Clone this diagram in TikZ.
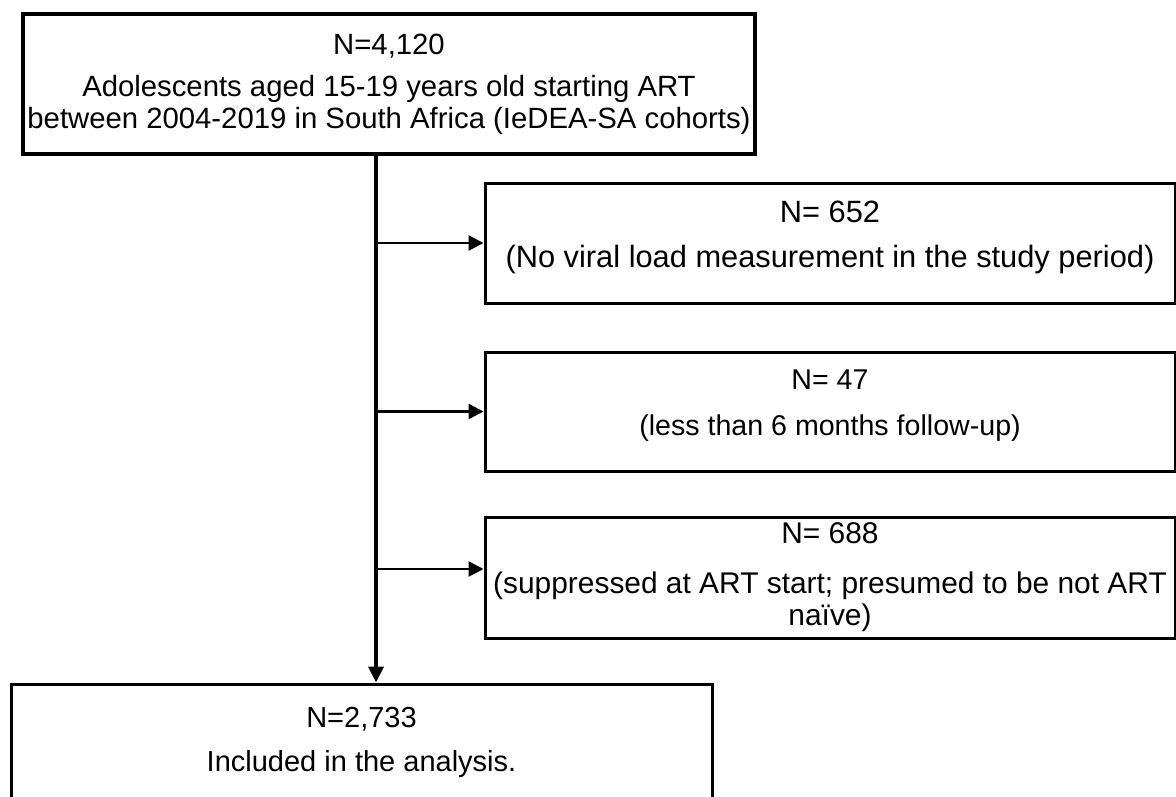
\documentclass[tikz,border=0pt]{standalone}
\usepackage{fontspec}
\setmainfont{Liberation Sans}
\usetikzlibrary{arrows.meta}
\begin{document}
\begin{tikzpicture}[x=1pt,y=-1pt,
  box/.style={draw=black, line width=3pt, rectangle, inner sep=0pt, align=center,
    font=\fontsize{28.5}{32}\selectfont},
  topbox/.style={box, line width=4pt},
  trunk/.style={line width=4pt, -{Triangle[length=16pt,width=15pt]}},
  branch/.style={line width=2.5pt, -{Triangle[length=15pt,width=15pt]}}]
\useasboundingbox (0,0) rectangle (1176,796);
\clip (0,0) rectangle (1176,796);
\coordinate (spine) at (376,0);
\node[topbox, minimum width=732pt, minimum height=140pt, font=\fontsize{29.3}{32}\selectfont] (top) at (389,84)
  {N=4,120\\[10pt]Adolescents aged 15-19 years old starting ART\\between 2004-2019 in South Africa (IeDEA-SA cohorts)};
\node[box, minimum width=690pt, minimum height=120pt, font=\fontsize{30.8}{32}\selectfont] (b1) at (830,243)
  {N= 652\\[13pt](No viral load measurement in the study period)\rule[-18pt]{0pt}{0pt}};
\node[box, minimum width=690pt, minimum height=119pt, font=\fontsize{28.6}{32}\selectfont] (b2) at (830,411.5)
  {N= 47\\[14pt](less than 6 months follow-up)\rule[-18pt]{0pt}{0pt}};
\node[box, minimum width=690pt, minimum height=121pt, font=\fontsize{29.9}{32}\selectfont] (b3) at (830,577.5)
  {N= 688\\[18pt](suppressed at ART start; presumed to be not ART\\naïve)};
\node[box, minimum width=701pt, minimum height=116pt, font=\fontsize{29}{32}\selectfont] (bot) at (361.5,742)
  {N=2,733\\[12pt]Included in the analysis.};
\draw[trunk] (top.south -| spine) -- (bot.north -| spine);
\draw[branch] (spine |- b1.west) -- (b1.west);
\draw[branch] (spine |- b2.west) -- (b2.west);
\draw[branch] ([yshift=8.5pt]b3.west -| spine) -- ([yshift=8.5pt]b3.west);
\end{tikzpicture}
\end{document}
